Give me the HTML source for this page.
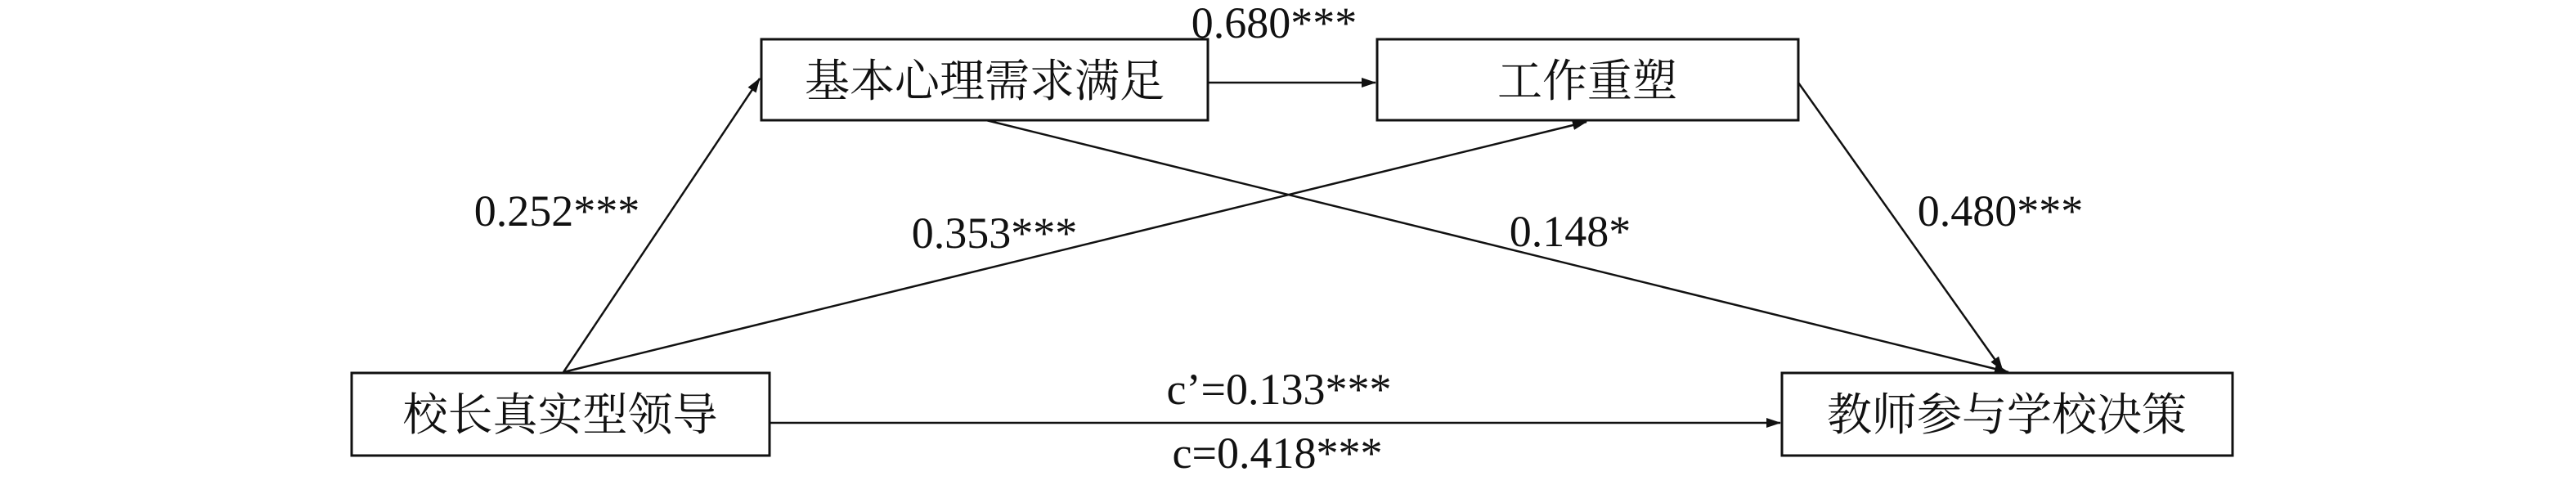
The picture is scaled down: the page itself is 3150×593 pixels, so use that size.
<!DOCTYPE html>
<html><head><meta charset="utf-8"><style>
html,body{margin:0;padding:0;background:#fff;}
svg{display:block;}
text{font-family:"Liberation Serif","Noto Serif CJK SC","Noto Sans CJK SC",serif;fill:#111;}
</style></head><body>
<svg width="3150" height="593" viewBox="0 0 3150 593" xmlns="http://www.w3.org/2000/svg">
<defs>
<marker id="b" markerWidth="18" markerHeight="12" refX="17" refY="6" orient="auto" markerUnits="userSpaceOnUse" viewBox="0 0 18 12">
<path d="M0,0 L18,6 L0,12 z" fill="#111"/>
</marker>
</defs>
<g fill="none" stroke="#111" stroke-width="3">
<rect x="931" y="48" width="546" height="99"/>
<rect x="1684" y="48" width="515" height="99"/>
<rect x="430" y="456" width="511" height="101"/>
<rect x="2179" y="456" width="551" height="101"/>
</g>
<g stroke="#111" stroke-width="2.5" fill="none">
<line x1="1477" y1="101" x2="1682" y2="101" marker-end="url(#b)"/>
<line x1="941" y1="517" x2="2177" y2="517" marker-end="url(#b)"/>
<line x1="689" y1="455" x2="929" y2="96" marker-end="url(#b)"/>
<line x1="689" y1="455" x2="1940" y2="149" marker-end="url(#b)"/>
<line x1="1206" y1="147" x2="2456" y2="455" marker-end="url(#b)"/>
<line x1="2199" y1="101" x2="2449" y2="453" marker-end="url(#b)"/>
</g>
<g font-size="55" text-anchor="middle">
<text x="1204" y="118">基本心理需求满足</text>
<text x="1941" y="118">工作重塑</text>
<text x="685" y="526">校长真实型领导</text>
<text x="2454" y="526">教师参与学校决策</text>
</g>
<g font-size="54" text-anchor="middle">
<text x="1558" y="46">0.680***</text>
<text x="681" y="276">0.252***</text>
<text x="1216" y="303">0.353***</text>
<text x="1920" y="301">0.148*</text>
<text x="2446" y="276">0.480***</text>
<text x="1564" y="494">c’=0.133***</text>
<text x="1562" y="572">c=0.418***</text>
</g>
</svg>
</body></html>
